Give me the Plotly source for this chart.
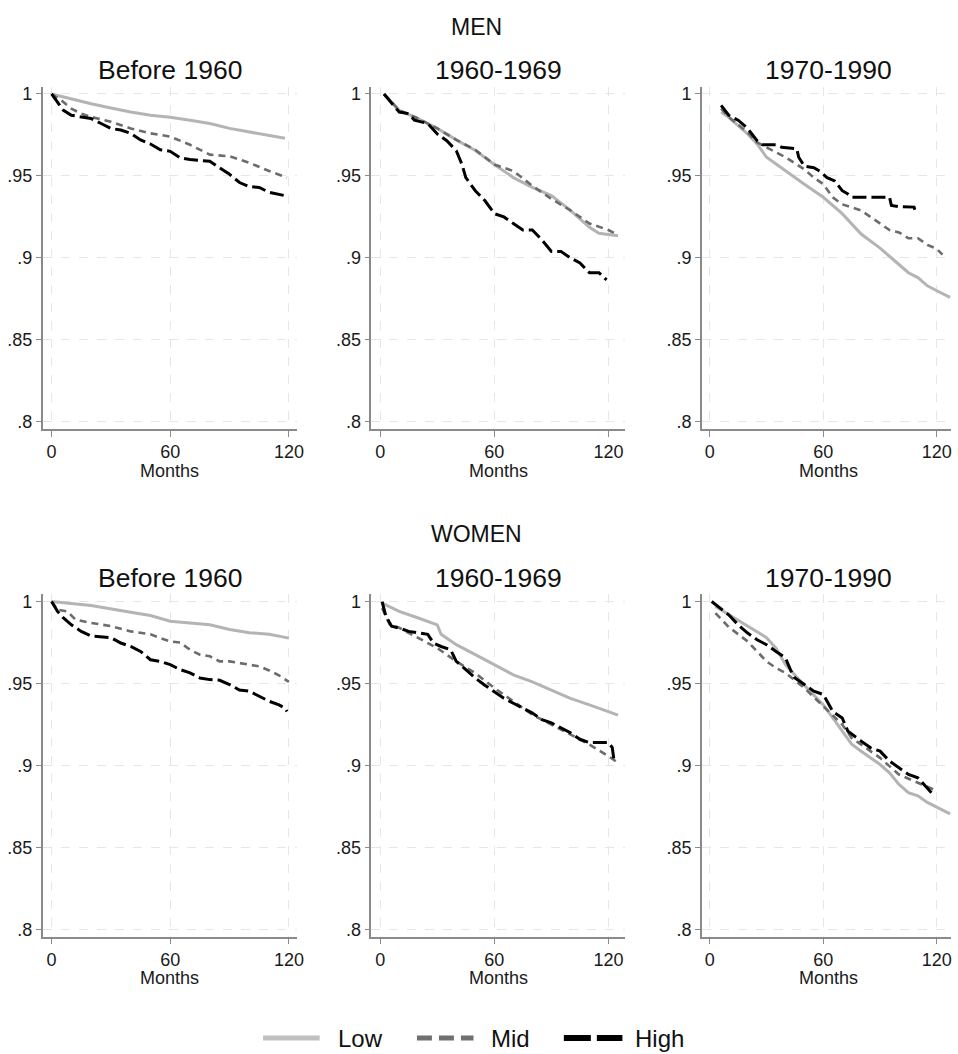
import plotly.graph_objects as go

# ---------------- data ----------------
ROW_TITLES = ["MEN", "WOMEN"]
PANEL_TITLES = ["Before 1960", "1960-1969", "1970-1990"]
SERIES = ["Low", "Mid", "High"]
X_TICKS = [0, 60, 120]
Y_TICKS = [0.8, 0.85, 0.9, 0.95, 1.0]
Y_TICK_LABELS = [".8", ".85", ".9", ".95", "1"]

# MEN, Before 1960
men_b60_low_x = [0, 10, 20, 30, 40, 50, 60, 70, 80, 90, 100, 110, 118]
men_b60_low_y = [1, 0.997, 0.994, 0.9915, 0.989, 0.987, 0.9858, 0.984, 0.982, 0.979, 0.977, 0.975, 0.973]
men_b60_mid_x = [0, 5, 10, 15, 20, 30, 40, 50, 60, 70, 80, 90, 100, 110, 119]
men_b60_mid_y = [1, 0.996, 0.991, 0.988, 0.986, 0.983, 0.979, 0.976, 0.974, 0.969, 0.963, 0.962, 0.958, 0.953, 0.949]
men_b60_high_x = [0, 3, 6, 10, 15, 20, 25, 30, 35, 40, 45, 50, 55, 60, 65, 70, 75, 80, 85, 90, 95, 100, 105, 110, 118]
men_b60_high_y = [1, 0.995, 0.99, 0.987, 0.986, 0.985, 0.982, 0.979, 0.978, 0.976, 0.972, 0.9695, 0.966, 0.965, 0.961,
                  0.96, 0.9595, 0.959, 0.955, 0.951, 0.946, 0.9435, 0.943, 0.94, 0.938]

# MEN, 1960-1969
men_60s_low_x = [2, 10, 20, 30, 40, 50, 60, 70, 80, 90, 100, 110, 115, 125]
men_60s_low_y = [1, 0.99, 0.985, 0.979, 0.972, 0.9655, 0.957, 0.949, 0.943, 0.938, 0.929, 0.9187, 0.915, 0.9136]
men_60s_mid_x = [2, 10, 20, 30, 40, 50, 60, 70, 80, 90, 100, 110, 120, 125]
men_60s_mid_y = [1, 0.99, 0.985, 0.979, 0.972, 0.966, 0.957, 0.953, 0.944, 0.936, 0.929, 0.921, 0.917, 0.914]
men_60s_high_x = [2, 10, 15, 18, 25, 30, 35, 40, 43, 45, 50, 55, 60, 65, 70, 75, 80, 85, 90, 95, 100, 105, 110, 115, 119]
men_60s_high_y = [1, 0.989, 0.988, 0.984, 0.982, 0.9756, 0.9715, 0.9654, 0.957, 0.949, 0.941, 0.935, 0.927, 0.925,
                  0.921, 0.917, 0.917, 0.911, 0.904, 0.904, 0.9, 0.897, 0.891, 0.891, 0.8866]

# MEN, 1970-1990
men_70s_low_x = [6, 10, 20, 25, 30, 40, 50, 60, 70, 80, 90, 100, 105, 110, 115, 120, 127]
men_70s_low_y = [0.989, 0.9858, 0.9756, 0.9695, 0.9614, 0.953, 0.945, 0.937, 0.927, 0.9146, 0.906, 0.896, 0.891,
                 0.888, 0.883, 0.88, 0.876]
men_70s_mid_x = [6, 10, 20, 25, 30, 40, 50, 55, 60, 65, 70, 75, 80, 85, 90, 95, 100, 105, 110, 115, 120, 123]
men_70s_mid_y = [0.991, 0.986, 0.9766, 0.9705, 0.9675, 0.9614, 0.954, 0.949, 0.945, 0.937, 0.9327, 0.9307, 0.929,
                 0.925, 0.921, 0.917, 0.9156, 0.912, 0.912, 0.908, 0.9055, 0.902]
men_70s_high_x = [6, 10, 15, 20, 25, 28, 35, 38, 46, 47, 50, 55, 58, 62, 66, 70, 73, 75, 85, 95, 96, 100, 108, 109]
men_70s_high_y = [0.993, 0.987, 0.984, 0.979, 0.9715, 0.969, 0.969, 0.9675, 0.9665, 0.9614, 0.956, 0.955, 0.953,
                  0.949, 0.947, 0.941, 0.939, 0.937, 0.937, 0.937, 0.932, 0.9313, 0.931, 0.927]

# WOMEN, Before 1960
wom_b60_low_x = [0, 20, 40, 50, 60, 80, 90, 100, 110, 120]
wom_b60_low_y = [1, 0.9976, 0.9935, 0.9915, 0.988, 0.9858, 0.983, 0.981, 0.98, 0.9777]
wom_b60_mid_x = [0, 3, 8, 12, 20, 30, 40, 50, 55, 60, 65, 70, 75, 80, 85, 90, 100, 105, 110, 115, 120]
wom_b60_mid_y = [1, 0.995, 0.994, 0.989, 0.987, 0.985, 0.9818, 0.98, 0.9777, 0.9757, 0.975, 0.9706, 0.9676, 0.9666,
                 0.9635, 0.9635, 0.9615, 0.9605, 0.958, 0.955, 0.951]
wom_b60_high_x = [0, 3, 6, 10, 15, 20, 30, 35, 40, 45, 50, 55, 60, 65, 70, 75, 80, 85, 90, 95, 100, 105, 110, 115,
                  118, 119]
wom_b60_high_y = [1, 0.994, 0.99, 0.9858, 0.9818, 0.979, 0.978, 0.9747, 0.9726, 0.9696, 0.9645, 0.9635, 0.9615,
                  0.9585, 0.9565, 0.9534, 0.9524, 0.952, 0.9494, 0.946, 0.9453, 0.942, 0.9392, 0.937, 0.935, 0.933]

# WOMEN, 1960-1969
wom_60s_low_x = [1, 10, 20, 30, 32, 40, 50, 60, 70, 80, 90, 100, 110, 120, 125]
wom_60s_low_y = [0.999, 0.994, 0.99, 0.9858, 0.98, 0.9737, 0.9676, 0.9615, 0.9553, 0.951, 0.946, 0.941, 0.937,
                 0.933, 0.9307]
wom_60s_mid_x = [1, 5, 10, 20, 30, 40, 50, 60, 70, 80, 90, 100, 110, 120, 125]
wom_60s_mid_y = [0.996, 0.986, 0.984, 0.9777, 0.9716, 0.9635, 0.9563, 0.9473, 0.939, 0.931, 0.925, 0.919, 0.9128,
                 0.9057, 0.9016]
wom_60s_high_x = [1, 3, 6, 10, 15, 20, 25, 28, 32, 37, 40, 45, 50, 55, 60, 65, 70, 75, 80, 85, 90, 95, 100, 105,
                  110, 115, 120, 122, 123]
wom_60s_high_y = [1, 0.991, 0.985, 0.9838, 0.9818, 0.9808, 0.98, 0.9747, 0.9726, 0.9706, 0.9635, 0.9585, 0.9533,
                  0.949, 0.945, 0.941, 0.938, 0.935, 0.932, 0.928, 0.926, 0.923, 0.92, 0.916, 0.914, 0.914, 0.914,
                  0.911, 0.9023]

# WOMEN, 1970-1990
wom_70s_low_x = [3, 10, 20, 30, 35, 40, 50, 60, 65, 70, 75, 80, 90, 95, 100, 105, 110, 115, 120, 127]
wom_70s_low_y = [0.997, 0.992, 0.985, 0.978, 0.9716, 0.9615, 0.949, 0.937, 0.929, 0.921, 0.913, 0.9087, 0.9006,
                 0.8955, 0.8885, 0.8835, 0.8815, 0.8775, 0.8744, 0.8705]
wom_70s_mid_x = [3, 10, 20, 30, 35, 40, 50, 60, 65, 70, 75, 80, 90, 100, 110, 118, 120]
wom_70s_mid_y = [0.993, 0.9845, 0.9757, 0.9635, 0.9595, 0.9565, 0.9473, 0.9362, 0.931, 0.925, 0.9168, 0.9128,
                 0.9047, 0.8945, 0.8895, 0.8855, 0.8845]
wom_70s_high_x = [1, 10, 15, 20, 25, 30, 35, 40, 43, 45, 50, 55, 60, 63, 65, 70, 73, 80, 85, 90, 95, 100, 105, 110,
                  115, 118]
wom_70s_high_y = [1, 0.9919, 0.9858, 0.9808, 0.9767, 0.9737, 0.9696, 0.9656, 0.9575, 0.9534, 0.9494, 0.9453,
                  0.9433, 0.937, 0.933, 0.929, 0.9209, 0.9149, 0.9108, 0.9088, 0.9027, 0.8986, 0.8946, 0.8925,
                  0.8865, 0.8824]

# ---------------- layout / style ----------------
W, H = 958, 1054
FONT = "Liberation Sans, Arial, Helvetica, sans-serif"
STYLE = {
    "Low": dict(color="#b4b4b4", width=3, dash="solid"),
    "Mid": dict(color="#6c6c6c", width=2.6, dash="7px,5px"),
    "High": dict(color="#000000", width=3, dash="14px,5px"),
}
LEG_STYLE = {
    "Low": dict(color="#c0c0c0", width=5, dash="solid"),
    "Mid": dict(color="#707070", width=5, dash="15px,7px"),
    "High": dict(color="#000000", width=6, dash="27px,6px"),
}

# pixel geometry of the panels (left, right) and rows (top, bottom)
COL_PX = [(43, 299), (374, 630), (707, 958)]
COL_RANGE = [(-4.5, 124.0), (-4.7, 128.9), (-4.2, 127.5)]
ROW_PX = [(85, 429), (595, 939)]
Y_RANGE = (0.7957, 1.0045)

panels = [
    [(men_b60_low_x, men_b60_low_y, men_b60_mid_x, men_b60_mid_y, men_b60_high_x, men_b60_high_y),
     (men_60s_low_x, men_60s_low_y, men_60s_mid_x, men_60s_mid_y, men_60s_high_x, men_60s_high_y),
     (men_70s_low_x, men_70s_low_y, men_70s_mid_x, men_70s_mid_y, men_70s_high_x, men_70s_high_y)],
    [(wom_b60_low_x, wom_b60_low_y, wom_b60_mid_x, wom_b60_mid_y, wom_b60_high_x, wom_b60_high_y),
     (wom_60s_low_x, wom_60s_low_y, wom_60s_mid_x, wom_60s_mid_y, wom_60s_high_x, wom_60s_high_y),
     (wom_70s_low_x, wom_70s_low_y, wom_70s_mid_x, wom_70s_mid_y, wom_70s_high_x, wom_70s_high_y)],
]

fig = go.Figure()
layout = dict(
    width=W, height=H, margin=dict(l=0, r=0, t=0, b=0),
    paper_bgcolor="white", plot_bgcolor="white",
    showlegend=False, font=dict(family=FONT, color="#1a1a1a"),
)
annotations = []
shapes = []

AX_COLOR = "#8a8a8a"
GRID_COLOR = "#e2e7ec"

k = 0
for r in range(2):
    top, bot = ROW_PX[r]
    ydom = [1 - bot / H, 1 - top / H]
    for c in range(3):
        k += 1
        left, right = COL_PX[c]
        xdom = [left / W, min(1.0, right / W)]
        xname = "xaxis" if k == 1 else f"xaxis{k}"
        yname = "yaxis" if k == 1 else f"yaxis{k}"
        xref = "x" if k == 1 else f"x{k}"
        yref = "y" if k == 1 else f"y{k}"
        layout[xname] = dict(
            domain=xdom, anchor=yref, range=list(COL_RANGE[c]),
            tickvals=X_TICKS, ticktext=[str(v) for v in X_TICKS],
            showline=True, linecolor=AX_COLOR, linewidth=1.5,
            ticks="outside", ticklen=6, tickwidth=1.2, tickcolor=AX_COLOR,
            tickfont=dict(size=18, family=FONT, color="#1a1a1a"),
            showgrid=True, gridcolor=GRID_COLOR, griddash="dash", gridwidth=1,
            zeroline=False, fixedrange=True,
        )
        layout[yname] = dict(
            domain=ydom, anchor=xref, range=list(Y_RANGE),
            tickvals=Y_TICKS, ticktext=Y_TICK_LABELS,
            showline=True, linecolor=AX_COLOR, linewidth=1.5,
            ticks="outside", ticklen=5, tickwidth=1.2, tickcolor=AX_COLOR,
            tickfont=dict(size=18, family=FONT, color="#1a1a1a"),
            showgrid=True, gridcolor=GRID_COLOR, griddash="dash", gridwidth=1,
            zeroline=False, fixedrange=True,
        )
        d = panels[r][c]
        for si, s in enumerate(SERIES):
            xs, ys = d[2 * si], d[2 * si + 1]
            st = STYLE[s]
            fig.add_trace(go.Scatter(
                x=xs, y=ys, mode="lines", name=s, xaxis=xref, yaxis=yref,
                line=dict(color=st["color"], width=st["width"], dash=st["dash"]),
                hoverinfo="skip",
            ))
        cx = ((left + right) / 2 if c < 2 else 835) / W
        # panel title
        annotations.append(dict(
            x=cx, y=1 - (68 if r == 0 else 579) / H, xref="paper", yref="paper",
            text=PANEL_TITLES[c], showarrow=False, xanchor="center", yanchor="middle",
            font=dict(size=26.5, family=FONT, color="#111111"),
        ))
        # axis title
        annotations.append(dict(
            x=cx, y=1 - (bot + 42) / H, xref="paper", yref="paper",
            text="Months", showarrow=False, xanchor="center", yanchor="middle",
            font=dict(size=18, family=FONT, color="#1a1a1a"),
        ))
    # row title
    annotations.append(dict(
        x=480 / W, y=1 - (25 if r == 0 else 535) / H, xref="paper", yref="paper",
        text=ROW_TITLES[r], showarrow=False, xanchor="center", yanchor="middle",
        font=dict(size=23, family=FONT, color="#111111"),
    ))

# legend drawn at the bottom
LEG_Y = 1 - 1041 / H
LEG_LINES = [(265, 322, 338), (420, 477, 493), (568, 627, 638)]
for s, (x0, x1, tx) in zip(SERIES, LEG_LINES):
    st = LEG_STYLE[s]
    shapes.append(dict(type="line", xref="paper", yref="paper", x0=x0 / W, x1=x1 / W, y0=LEG_Y, y1=LEG_Y,
                       line=dict(color=st["color"], width=st["width"], dash=st["dash"])))
    annotations.append(dict(x=tx / W, y=LEG_Y, xref="paper", yref="paper", text=s, showarrow=False,
                            xanchor="left", yanchor="middle",
                            font=dict(size=24, family=FONT, color="#111111")))

layout["annotations"] = annotations
layout["shapes"] = shapes
fig.update_layout(**layout)
fig.write_html(
    "out.html",
    config={"displayModeBar": False},
    post_script="document.body.style.margin='0';document.body.style.overflow='hidden';",
)
